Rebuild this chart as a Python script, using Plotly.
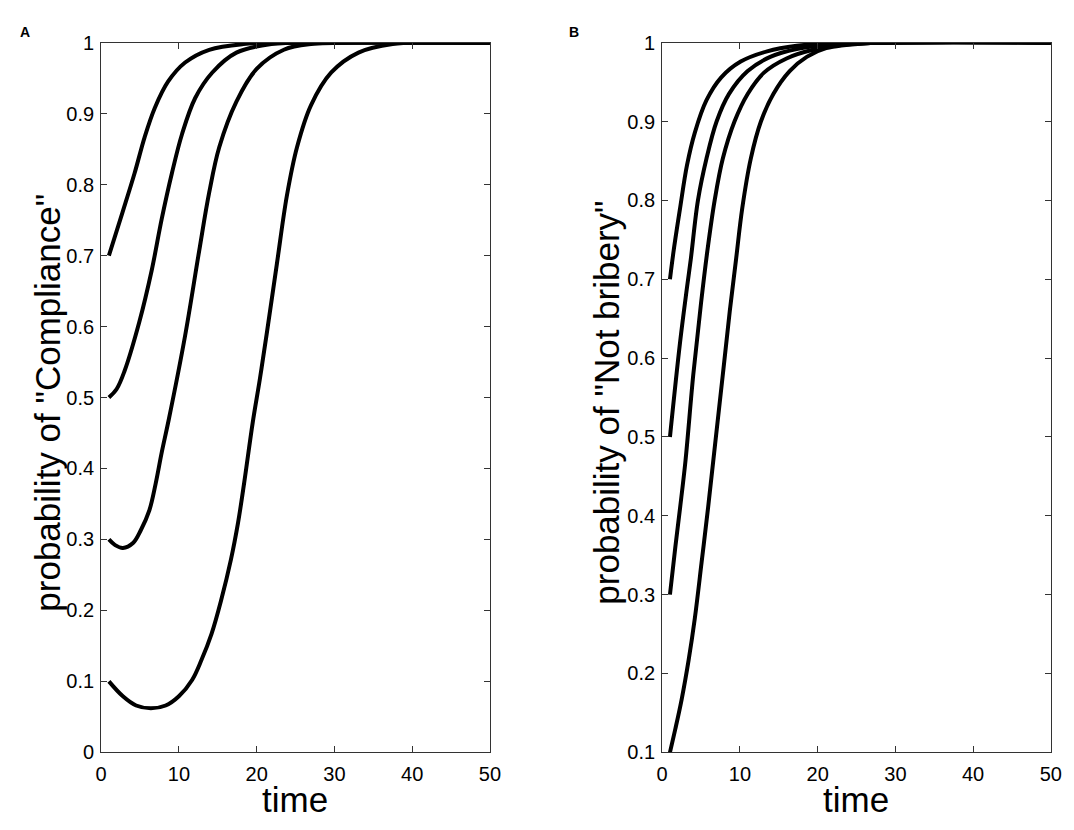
import plotly.graph_objects as go

# panel A: probability of "Compliance"
comp_t_70 = [1, 2.75, 4.3, 5.6, 6.9, 8.6, 10.8, 13.9, 18.3, 25, 50]
comp_p_70 = [0.70, 0.761, 0.816, 0.867, 0.908, 0.945, 0.972, 0.990, 0.998, 1.0, 1.0]

comp_t_50 = [1, 2, 3, 4.9, 6.5, 7.8, 9.1, 10.4, 12.1, 14.3, 17.4, 21.9, 30, 50]
comp_p_50 = [0.50, 0.512, 0.537, 0.606, 0.679, 0.752, 0.816, 0.871, 0.922, 0.958, 0.986, 0.998, 1.0, 1.0]

comp_t_30 = [1, 1.8, 2.8, 4.1, 5.1, 6.2, 7.0, 7.8, 8.7, 10.8, 12.6, 13.9, 15.2, 17.4, 20, 23.5, 27, 35, 50]
comp_p_30 = [0.30, 0.292, 0.288, 0.295, 0.313, 0.341, 0.378, 0.423, 0.469, 0.587, 0.706, 0.789, 0.853, 0.917, 0.963, 0.99, 0.998, 1.0, 1.0]

comp_t_10 = [1, 2.8, 4.5, 6.4, 8.3, 10.0, 11.7, 12.9, 14.2, 15.4, 16.7, 17.6, 18.4, 19.5, 20.4, 21.3,
             22.6, 23.9, 25.2, 27, 29.6, 33.1, 37.5, 42, 50]
comp_p_10 = [0.10, 0.079, 0.066, 0.062, 0.066, 0.079, 0.102, 0.130, 0.167, 0.213, 0.272, 0.323, 0.38, 0.465, 0.525, 0.59,
             0.688, 0.785, 0.853, 0.912, 0.958, 0.986, 0.998, 1.0, 1.0]

# panel B: probability of "Not bribery"
brib_t_70 = [1, 1.5, 2.3, 3.2, 4.2, 5.7, 7.6, 10.1, 13.5, 17.3, 22, 50]
brib_p_70 = [0.70, 0.738, 0.79, 0.845, 0.886, 0.927, 0.956, 0.976, 0.989, 0.996, 0.999, 1.0]

brib_t_50 = [1, 2.3, 3.2, 3.7, 4.6, 5.7, 7.0, 8.6, 11.0, 13.9, 17.3, 22, 50]
brib_p_50 = [0.50, 0.62, 0.69, 0.727, 0.80, 0.853, 0.90, 0.935, 0.964, 0.982, 0.992, 0.998, 1.0]

brib_t_30 = [1, 1.7, 2.3, 3.0, 4.0, 5.0, 5.8, 6.75, 7.8, 9.3, 11.0, 13.1, 16, 19.4, 24, 50]
brib_p_30 = [0.30, 0.361, 0.41, 0.47, 0.579, 0.67, 0.735, 0.80, 0.853, 0.90, 0.935, 0.962, 0.98, 0.991, 0.998, 1.0]

brib_t_10 = [1, 1.7, 2.5, 3.4, 4.2, 5.06, 5.9, 6.8, 7.8, 8.7, 9.5, 10.3, 11.4, 12.7, 14.3, 16.4, 18.6, 21.1, 26, 50]
brib_p_10 = [0.10, 0.13, 0.167, 0.217, 0.27, 0.34, 0.41, 0.49, 0.579, 0.66, 0.725, 0.79, 0.853, 0.90, 0.935, 0.964, 0.982, 0.993, 0.999, 1.0]

x_ticks = [0, 10, 20, 30, 40, 50]
y_ticks_a = [0, 0.1, 0.2, 0.3, 0.4, 0.5, 0.6, 0.7, 0.8, 0.9, 1]
y_labels_a = ["0", "0.1", "0.2", "0.3", "0.4", "0.5", "0.6", "0.7", "0.8", "0.9", "1"]
y_ticks_b = y_ticks_a[1:]
y_labels_b = y_labels_a[1:]

FONT = "Liberation Sans, Arial, Helvetica, sans-serif"

fig = go.Figure()

for t, p in [(comp_t_70, comp_p_70), (comp_t_50, comp_p_50),
             (comp_t_30, comp_p_30), (comp_t_10, comp_p_10)]:
    fig.add_trace(go.Scatter(x=t, y=p, mode="lines", xaxis="x", yaxis="y",
                             line=dict(color="black", width=4, shape="spline", smoothing=1.0),
                             cliponaxis=False, showlegend=False, hoverinfo="skip"))

for t, p in [(brib_t_70, brib_p_70), (brib_t_50, brib_p_50),
             (brib_t_30, brib_p_30), (brib_t_10, brib_p_10)]:
    fig.add_trace(go.Scatter(x=t, y=p, mode="lines", xaxis="x2", yaxis="y2",
                             line=dict(color="black", width=4, shape="spline", smoothing=1.0),
                             cliponaxis=False, showlegend=False, hoverinfo="skip"))

axis_style = dict(
    showgrid=False, zeroline=False, showline=True, linecolor="#333333", linewidth=1,
    mirror="allticks", ticks="inside", ticklen=6, tickwidth=1, tickcolor="#333333",
    tickfont=dict(family=FONT, size=20, color="black"),
)

fig.update_layout(
    width=1074, height=830,
    margin=dict(l=0, r=0, t=0, b=0),
    paper_bgcolor="white", plot_bgcolor="white",
    font=dict(family=FONT, color="black"),
    xaxis=dict(domain=[0.0900, 0.4578], range=[0, 50], tickvals=x_ticks, anchor="y", **axis_style),
    yaxis=dict(domain=[0.0825, 0.9608], range=[0, 1], tickvals=y_ticks_a, ticktext=y_labels_a,
               anchor="x", **axis_style),
    xaxis2=dict(domain=[0.6208, 0.9885], range=[0, 50], tickvals=x_ticks, anchor="y2", **axis_style),
    yaxis2=dict(domain=[0.0825, 0.9608], range=[0.1, 1], tickvals=y_ticks_b, ticktext=y_labels_b,
                anchor="x2", **axis_style),
)

fig.update_xaxes(ticklabelstandoff=4)
fig.update_yaxes(ticklabelstandoff=2)

title_font = dict(family=FONT, size=35, color="black")
annotations = [
    dict(text="time", x=294, y=810, font=title_font),
    dict(text="time", x=864, y=810, font=title_font),
    dict(text='probability of "Compliance"', x=42, y=402, textangle=-90, font=title_font),
    dict(text='probability of "Not bribery"', x=610, y=402, textangle=-90, font=title_font),
    dict(text="<b>A</b>", x=19, y=22, font=dict(family=FONT, size=14, color="black")),
    dict(text="<b>B</b>", x=577, y=22, font=dict(family=FONT, size=14, color="black")),
]
for a in annotations:
    fig.add_annotation(text=a["text"], x=a["x"] / 1074, y=1 - a["y"] / 830,
                       xref="paper", yref="paper", xanchor="center", yanchor="middle",
                       showarrow=False, textangle=a.get("textangle", 0), font=a["font"])

fig.write_html("out.html", config={"displayModeBar": False},
               post_script="document.body.style.margin='0';")
